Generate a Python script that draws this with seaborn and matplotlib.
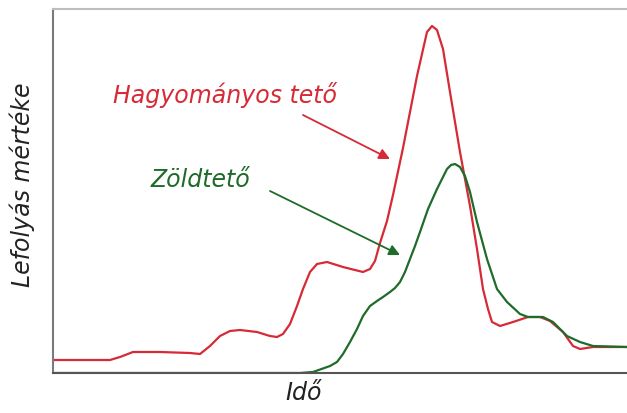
import matplotlib
matplotlib.use("Agg")
import matplotlib.pyplot as plt
import seaborn as sns
import pandas as pd

# --- data (time, runoff) ---
red_time = [0, 57, 67, 80, 107, 137, 147, 157, 167, 177, 187, 204, 217, 224, 230, 237,
            244, 250, 257, 264, 274, 290, 310, 317, 322, 327, 334, 340, 350, 364, 374,
            379, 384, 390, 397, 407, 417, 424, 430, 435, 439, 447, 460, 475, 487, 497,
            510, 520, 527, 540, 574]
red_runoff = [13, 13, 16, 21, 21, 20, 19, 27, 37, 42, 43, 41, 37, 36, 39, 49,
              67, 84, 101, 109, 111, 106, 101, 104, 112, 130, 152, 178, 225, 297, 341,
              347, 343, 324, 281, 221, 167, 124, 84, 64, 51, 47, 51, 56, 56, 52,
              41, 27, 24, 26, 26]
green_time = [0, 247, 260, 277, 284, 290, 297, 304, 310, 317, 324, 330, 337, 342, 347,
              352, 357, 362, 367, 375, 384, 394, 398, 402, 407, 412, 417, 424, 434,
              444, 454, 467, 475, 490, 500, 514, 527, 540, 574]
green_runoff = [0, 0, 1, 7, 11, 19, 31, 44, 57, 67, 72, 76, 81, 85, 91,
                101, 114, 127, 141, 164, 184, 204, 208, 209, 206, 197, 181, 151, 114,
                84, 71, 59, 56, 56, 51, 37, 31, 27, 26]

series_names = ["Hagyományos tető", "Zöldtető"]
axis_labels = ["Idő", "Lefolyás mértéke"]

RED = "#d62a36"
GREEN = "#1f6b2a"

df = pd.concat([
    pd.DataFrame({"t": red_time, "v": red_runoff, "s": series_names[0]}),
    pd.DataFrame({"t": green_time, "v": green_runoff, "s": series_names[1]}),
])

sns.set_style("white")
plt.rcParams["font.family"] = ["DejaVu Sans"]

fig = plt.figure(figsize=(6.27, 4.14), dpi=100)
ax = fig.add_axes([53 / 627, 40 / 414, 574 / 627, 364 / 414])

sns.lineplot(data=df, x="t", y="v", hue="s",
             palette={series_names[0]: RED, series_names[1]: GREEN},
             sort=False, estimator=None, legend=False, lw=1.6, ax=ax,
             solid_joinstyle="round", solid_capstyle="round")

ax.set_xlim(0, 574)
ax.set_ylim(0, 364)
ax.set_xticks([])
ax.set_yticks([])

ax.spines["left"].set_visible(True)
ax.spines["bottom"].set_visible(True)
ax.spines["top"].set_visible(True)
ax.spines["right"].set_visible(False)
ax.spines["left"].set_color("#7a7a7a")
ax.spines["left"].set_linewidth(1.5)
ax.spines["bottom"].set_color("#555555")
ax.spines["bottom"].set_linewidth(1.5)
ax.spines["top"].set_color("#bdbdbd")
ax.spines["top"].set_linewidth(1.5)

fs = 17
ax.set_xlabel(axis_labels[0], fontsize=fs, style="italic", color="#222222")
ax.xaxis.set_label_coords(0.436, -0.020)
ax.set_ylabel(axis_labels[1], fontsize=fs, style="italic", color="#222222")
ax.yaxis.set_label_coords(-0.031, 0.52)

ax.text(172, 279, series_names[0], color=RED, fontsize=fs, style="italic",
        ha="center", va="center")
ax.text(147, 194, series_names[1], color=GREEN, fontsize=fs, style="italic",
        ha="center", va="center")

ax.annotate("", xy=(337, 214), xytext=(250, 258),
            arrowprops=dict(arrowstyle="-|>", color=RED, lw=1.3, mutation_scale=16,
                            shrinkA=0, shrinkB=0))
ax.annotate("", xy=(347, 118), xytext=(217, 182),
            arrowprops=dict(arrowstyle="-|>", color=GREEN, lw=1.3, mutation_scale=16,
                            shrinkA=0, shrinkB=0))

fig.savefig("out.png", dpi=100, facecolor="white")
